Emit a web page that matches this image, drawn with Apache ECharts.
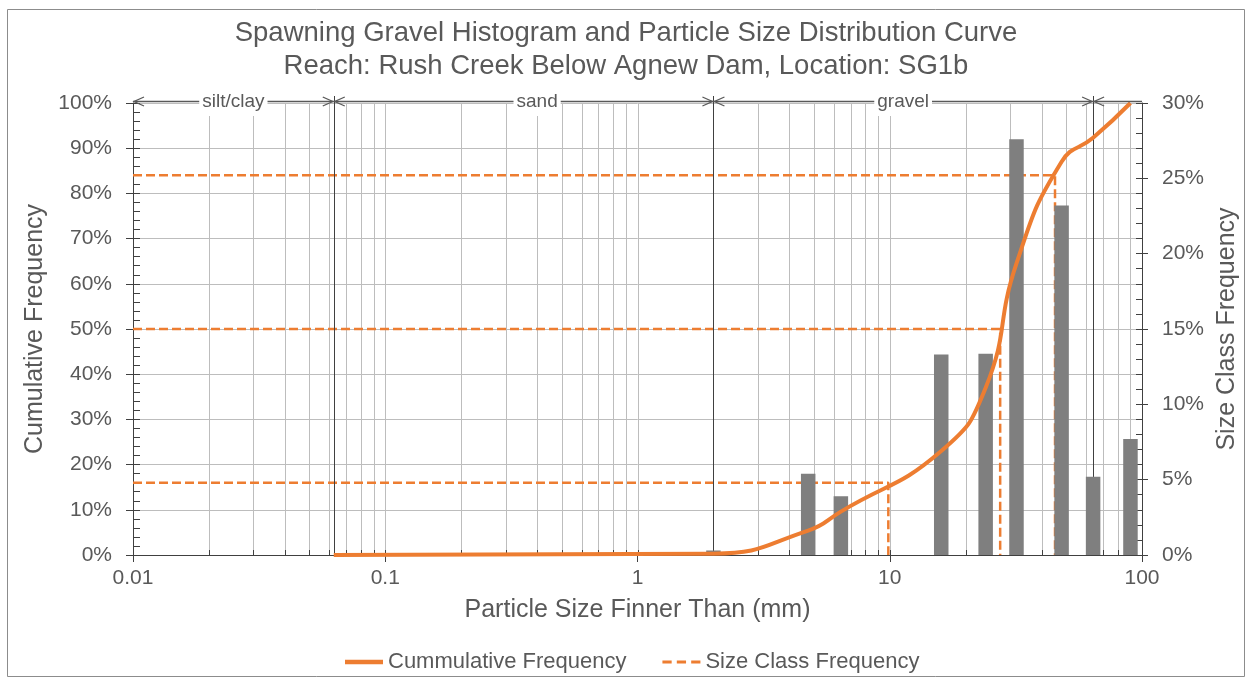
<!DOCTYPE html>
<html>
<head>
<meta charset="utf-8">
<script src="https://cdn.jsdelivr.net/npm/echarts@6/dist/echarts.min.js"></script>
<style>
html,body{margin:0;padding:0;background:#fff;}
#chart{width:1252px;height:681px;}
</style>
</head>
<body>
<div id="chart"></div>
<script>
// ---------- data ----------
const xMin = 0.01, xMax = 100;
const curveSizes  = [0.0625, 2,   4.75, 6.4, 16, 24, 31.8, 48, 64,   90];
const curveValues = [0,      0.3, 5.4,  9.6, 23, 37, 64.5, 87, 92.3, 100];
const barSizes  = [2,   4.75, 6.4, 16,   24,    31.8, 48,   64,  90];
const barValues = [0.3, 5.4,  3.9, 13.3, 13.35, 27.6, 23.2, 5.2, 7.7];
const dPercents = [16, 50, 84];
const dSizes    = [9.87, 27.4, 45.2];
const boundaries = [0.0625, 2, 64];
const classNames   = ['silt/clay', 'sand', 'gravel', ''];
const classFrom    = [0.01, 0.0625, 2, 64];
const classTo      = [0.0625, 2, 64, 100];
const classLabelAt = [0.025, 0.4, 11.3, null];

// log grid positions (axis structure)
const gridVals = [];
for (let k = -2; k <= 1; k++) {
  for (let m = 1; m <= 9; m++) {
    const v = +(m * Math.pow(10, k)).toPrecision(6);
    if (v > xMin && v < xMax) gridVals.push(v);
  }
}

const FONT = "'Liberation Sans', Arial, sans-serif";
const TXT = '#595959';
const ORANGE = '#ED7D31';
const AXIS = '#404040';

const chart = echarts.init(document.getElementById('chart'), null, {renderer: 'canvas'});

const dashSeries = dPercents.map((p, i) => ({
  name: 'Size Class Frequency',
  type: 'line',
  xAxisIndex: 0, yAxisIndex: 0,
  data: [[xMin, p], [dSizes[i], p], [dSizes[i], 0]],
  symbol: 'none',
  lineStyle: {color: ORANGE, width: 2.5, type: [9, 4]},
  itemStyle: {color: ORANGE},
  z: 3,
  silent: true
}));

const option = {
  animation: false,
  backgroundColor: '#fff',
  title: {
    text: 'Spawning Gravel Histogram and Particle Size Distribution Curve\nReach: Rush Creek Below Agnew Dam, Location: SG1b',
    left: 'center', top: 17, padding: 0,
    textStyle: {fontFamily: FONT, fontSize: 27.5, fontWeight: 'normal', color: TXT, lineHeight: 33}
  },
  legend: {
    data: [
      {name: 'Cummulative Frequency', icon: 'path://M0,0H38V4.5H0Z'},
      {name: 'Size Class Frequency', icon: 'path://M0,0H9V3H0Z M14,0H23V3H14Z M28,0H37V3H28Z'}
    ],
    left: 345, top: 651, padding: 0,
    itemWidth: 38, itemHeight: 14, itemGap: 36,
    symbolKeepAspect: true,
    itemStyle: {color: ORANGE, borderWidth: 0},
    textStyle: {fontFamily: FONT, fontSize: 22, color: TXT}
  },
  grid: {left: 133, right: 110, top: 103, bottom: 126},
  xAxis: [{
    type: 'log', logBase: 10, min: xMin, max: xMax,
    name: 'Particle Size Finner Than (mm)', nameLocation: 'middle', nameGap: 43,
    nameTextStyle: {fontFamily: FONT, fontSize: 25, color: TXT},
    axisLine: {lineStyle: {color: AXIS, width: 1}},
    axisTick: {show: true, length: 7, lineStyle: {color: AXIS}},
    axisLabel: {fontFamily: FONT, fontSize: 21, color: TXT, margin: 13,
      formatter: v => String(+(+v).toPrecision(6))},
    splitLine: {show: false}
  }],
  yAxis: [{
    type: 'value', position: 'left', min: 0, max: 100, interval: 10,
    name: 'Cumulative Frequency', nameLocation: 'middle', nameGap: 81,
    nameTextStyle: {fontFamily: FONT, fontSize: 25, color: TXT},
    axisLine: {show: true, lineStyle: {color: AXIS}},
    axisTick: {show: true, inside: true, length: 7, lineStyle: {color: AXIS}},
    minorTick: {show: true, splitNumber: 5, length: 7, lineStyle: {color: AXIS}},
    axisLabel: {fontFamily: FONT, fontSize: 21, color: TXT, margin: 21, formatter: '{value}%'},
    splitLine: {show: true, lineStyle: {color: '#bdbdbd', width: 1}}
  }, {
    type: 'value', position: 'right', min: 0, max: 30, interval: 5,
    name: 'Size Class Frequency', nameLocation: 'middle', nameGap: 63,
    nameTextStyle: {fontFamily: FONT, fontSize: 25, color: TXT},
    axisLine: {show: true, lineStyle: {color: AXIS}},
    axisTick: {show: true, inside: true, length: 6, lineStyle: {color: AXIS}},
    minorTick: {show: true, splitNumber: 5, length: 6, lineStyle: {color: AXIS}},
    axisLabel: {fontFamily: FONT, fontSize: 21, color: TXT, margin: 20, formatter: '{value}%'},
    splitLine: {show: false}
  }, {
    type: 'value', position: 'left', min: 0, max: 100, interval: 10,
    axisLine: {show: false}, axisLabel: {show: false}, splitLine: {show: false},
    axisTick: {show: true, inside: false, length: 7, lineStyle: {color: AXIS}}
  }, {
    type: 'value', position: 'right', min: 0, max: 30, interval: 5,
    axisLine: {show: false}, axisLabel: {show: false}, splitLine: {show: false},
    axisTick: {show: true, inside: false, length: 6, lineStyle: {color: AXIS}}
  }],
  graphic: [{
    type: 'rect', silent: true, z: -10,
    shape: {x: 7.5, y: 9.5, width: 1237, height: 667},
    style: {fill: 'none', stroke: '#8c8c8c', lineWidth: 1}
  }],
  series: [
    // vertical log grid + inner minor ticks
    {
      type: 'custom', silent: true, z: 1, xAxisIndex: 0, yAxisIndex: 0,
      encode: {x: 0, y: 1},
      data: gridVals.map(v => [v, 0]),
      renderItem: (params, api) => {
        const p0 = api.coord([api.value(0), 0]);
        const p1 = api.coord([api.value(0), 100]);
        const x = Math.round(p0[0]) + 0.5;
        return {type: 'group', children: [
          {type: 'line', shape: {x1: x, y1: p0[1], x2: x, y2: p1[1]}, style: {stroke: '#bdbdbd', lineWidth: 1}},
          {type: 'line', shape: {x1: x, y1: p0[1], x2: x, y2: p0[1] - 5}, style: {stroke: AXIS, lineWidth: 1}}
        ]};
      }
    },
    ...dashSeries,
    // class boundaries
    {
      type: 'custom', silent: true, z: 4, xAxisIndex: 0, yAxisIndex: 0,
      encode: {x: 0, y: 1},
      data: boundaries.map(b => [b, 0]),
      renderItem: (params, api) => {
        const p0 = api.coord([api.value(0), 0]);
        const p1 = api.coord([api.value(0), 100]);
        const x = Math.round(p0[0]) + 0.5;
        return {type: 'line', shape: {x1: x, y1: p0[1], x2: x, y2: p1[1] - 7}, style: {stroke: AXIS, lineWidth: 1}};
      }
    },
    // size class bars
    {
      type: 'custom', silent: true, z: 5, xAxisIndex: 0, yAxisIndex: 1,
      encode: {x: 0, y: 1},
      data: barSizes.map((s, i) => [s, barValues[i]]),
      renderItem: (params, api) => {
        const p = api.coord([api.value(0), api.value(1)]);
        const p0 = api.coord([api.value(0), 0]);
        const w = 14.5;
        return {type: 'rect', shape: {x: p[0] - w / 2, y: p[1], width: w, height: p0[1] - p[1]}, style: {fill: '#7f7f7f'}};
      }
    },
    // cumulative curve
    {
      name: 'Cummulative Frequency',
      type: 'line', xAxisIndex: 0, yAxisIndex: 0,
      data: curveSizes.map((s, i) => [s, curveValues[i]]),
      smooth: 0.5,
      symbol: 'none',
      lineStyle: {color: ORANGE, width: 4},
      itemStyle: {color: ORANGE},
      z: 6, silent: true
    },
    // class annotation arrows
    {
      type: 'custom', silent: true, z: 7, xAxisIndex: 0, yAxisIndex: 0,
      encode: {x: 0, y: 1},
      data: classFrom.map((f, i) => [f, 100]),
      renderItem: (params, api) => {
        const i = params.dataIndex;
        const a = api.coord([classFrom[i], 100]);
        const b = api.coord([classTo[i], 100]);
        const y = Math.round(a[1] - 2) + 0.5;
        const st = {stroke: TXT, lineWidth: 1.3};
        const kids = [{type: 'line', shape: {x1: a[0], y1: y, x2: b[0], y2: y}, style: st}];
        const ah = 11, aw = 4.5;
        kids.push({type: 'polyline', shape: {points: [[a[0] + ah, y - aw], [a[0] + 1, y], [a[0] + ah, y + aw]]}, style: {stroke: TXT, lineWidth: 1.3, fill: null}});
        if (classTo[i] < xMax) {
          kids.push({type: 'polyline', shape: {points: [[b[0] - ah, y - aw], [b[0] - 1, y], [b[0] - ah, y + aw]]}, style: {stroke: TXT, lineWidth: 1.3, fill: null}});
        }
        if (classLabelAt[i] != null) {
          const c = api.coord([classLabelAt[i], 100]);
          kids.push({type: 'text', x: c[0], y: y,
            style: {text: classNames[i], font: '19px ' + FONT, fill: TXT, align: 'center', verticalAlign: 'middle',
              backgroundColor: '#fff', padding: [2, 3, 8, 3]}});
        }
        return {type: 'group', children: kids};
      }
    }
  ]
};
chart.setOption(option);
</script>
</body>
</html>
